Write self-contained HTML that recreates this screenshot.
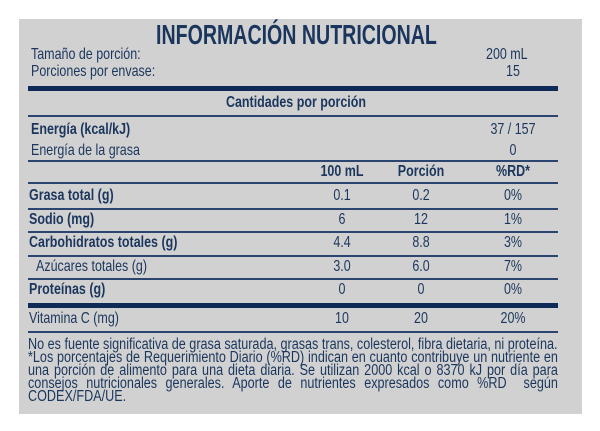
<!DOCTYPE html>
<html><head><meta charset="utf-8"><style>
body{margin:0;width:600px;height:431px;background:#fff;position:relative;overflow:hidden;font-family:"Liberation Sans",sans-serif;color:#1b365d}
#panel{position:absolute;left:19px;top:19px;width:563px;height:395px;background:#d1d1d1}
.t{position:absolute;font-size:16px;line-height:16px;white-space:nowrap;transform:scaleX(.78);transform-origin:left center}
.c{transform-origin:center center;text-align:center;width:100px;margin-left:-50px}
.b{font-weight:bold}
.ln{position:absolute;left:28px;width:530px;height:1.5px;background:#2b4470}
.thick{height:5px;background:#0f2a57}
#foot{position:absolute;left:28px;top:338px;width:651px;font-size:15.5px;line-height:13px;text-align:justify;transform:scaleX(.814);transform-origin:left top}
</style></head><body>
<div id="panel"></div>
<div class="t c b" style="left:296px;top:21px;font-size:28px;line-height:28px;width:400px;margin-left:-200px;transform:scaleX(.7)">INFORMACIÓN NUTRICIONAL</div>
<div class="t" style="left:31px;top:47px">Tamaño de porción:</div>
<div class="t" style="left:486px;top:47px">200 mL</div>
<div class="t" style="left:31px;top:64px">Porciones por envase:</div>
<div class="t c" style="left:513px;top:64px">15</div>
<div class="ln thick" style="top:86px"></div>
<div class="t c b" style="left:296px;top:95px;width:200px;margin-left:-100px">Cantidades por porción</div>
<div class="ln" style="top:115px"></div>
<div class="t b" style="left:31px;top:122px">Energía (kcal/kJ)</div>
<div class="t c" style="left:513px;top:122px">37 / 157</div>
<div class="t" style="left:31px;top:143px">Energía de la grasa</div>
<div class="t c" style="left:513px;top:143px">0</div>
<div class="ln" style="top:160px"></div>
<div class="t c b" style="left:342px;top:164px">100 mL</div>
<div class="t c b" style="left:421px;top:164px">Porción</div>
<div class="t c b" style="left:513px;top:164px">%RD*</div>
<div class="ln" style="top:182px"></div>

<div class="t b" style="left:29px;top:188px">Grasa total (g)</div>
<div class="t c" style="left:342px;top:188px">0.1</div>
<div class="t c" style="left:421px;top:188px">0.2</div>
<div class="t c" style="left:513px;top:188px">0%</div>
<div class="ln" style="top:208px"></div>

<div class="t b" style="left:29px;top:212px">Sodio (mg)</div>
<div class="t c" style="left:342px;top:212px">6</div>
<div class="t c" style="left:421px;top:212px">12</div>
<div class="t c" style="left:513px;top:212px">1%</div>
<div class="ln" style="top:231px"></div>

<div class="t b" style="left:29px;top:235px">Carbohidratos totales (g)</div>
<div class="t c" style="left:342px;top:235px">4.4</div>
<div class="t c" style="left:421px;top:235px">8.8</div>
<div class="t c" style="left:513px;top:235px">3%</div>
<div class="ln" style="top:255px"></div>

<div class="t" style="left:36px;top:259px">Azúcares totales (g)</div>
<div class="t c" style="left:342px;top:259px">3.0</div>
<div class="t c" style="left:421px;top:259px">6.0</div>
<div class="t c" style="left:513px;top:259px">7%</div>
<div class="ln" style="top:278px"></div>

<div class="t b" style="left:29px;top:282px">Proteínas (g)</div>
<div class="t c" style="left:342px;top:282px">0</div>
<div class="t c" style="left:421px;top:282px">0</div>
<div class="t c" style="left:513px;top:282px">0%</div>
<div class="ln thick" style="top:303px"></div>

<div class="t" style="left:29px;top:311px">Vitamina C (mg)</div>
<div class="t c" style="left:342px;top:311px">10</div>
<div class="t c" style="left:421px;top:311px">20</div>
<div class="t c" style="left:513px;top:311px">20%</div>
<div class="ln" style="top:331px"></div>

<div id="foot">No es fuente significativa de grasa saturada, grasas trans, colesterol, fibra dietaria, ni proteína.<br>*Los porcentajes de Requerimiento Diario (%RD) indican en cuanto contribuye un nutriente en una porción de alimento para una dieta diaria. Se utilizan 2000 kcal o 8370 kJ por día para consejos nutricionales generales. Aporte de nutrientes expresados como %RD&nbsp; según CODEX/FDA/UE.</div>
</body></html>
